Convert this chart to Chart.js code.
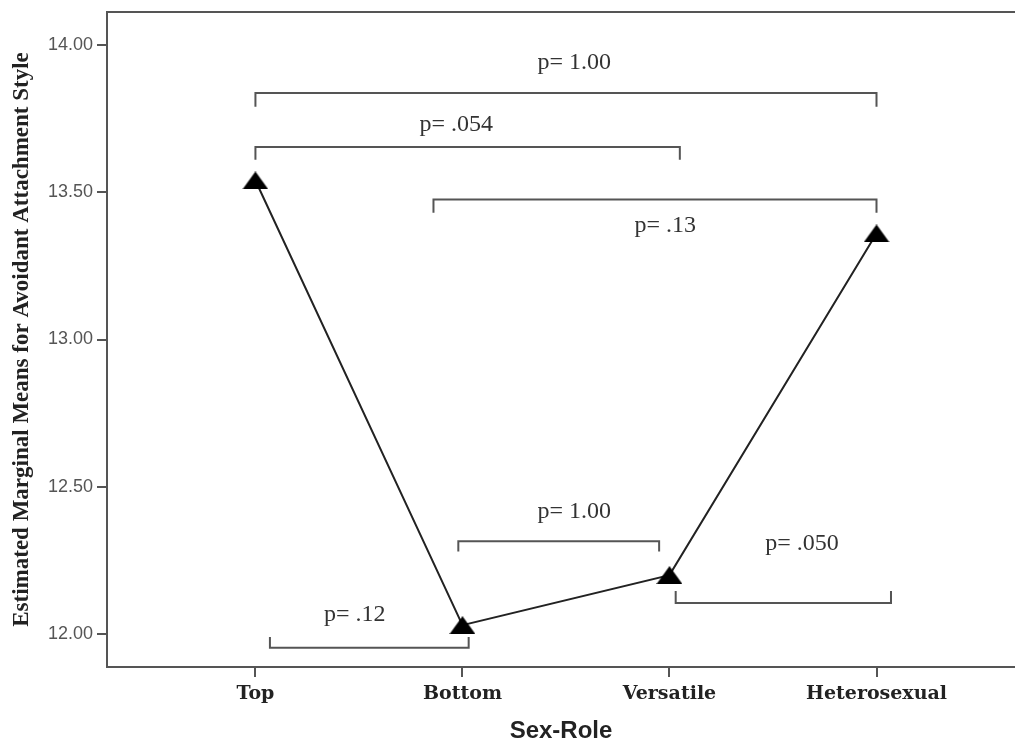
<!DOCTYPE html>
<html>
<head>
<meta charset="utf-8">
<script src="https://cdn.jsdelivr.net/npm/chart.js@4/dist/chart.umd.min.js"></script>
<style>
  html, body { margin: 0; padding: 0; background: #fff; }
  #wrap { width: 1015px; height: 746px; }
</style>
</head>
<body>
<div id="wrap"><canvas id="chart" width="1015" height="746"></canvas></div>
<script>
// values
var sexRoles = ['Top', 'Bottom', 'Versatile', 'Heterosexual'];
var avoidantMeans = [13.54, 12.03, 12.20, 13.36];
var yTicks = [12.00, 12.50, 13.00, 13.50, 14.00];

// pairwise comparison brackets (x in category units, y in mean units)
var bracketLabels = ['p= 1.00', 'p= .054', 'p= .13', 'p= 1.00', 'p= .050', 'p= .12'];
var bracketFrom = [0, 0, 0.86, 0.98, 2.03, 0.07];
var bracketTo = [3, 2.05, 3, 1.95, 3.07, 1.03];
var bracketLevel = [13.837, 13.654, 13.475, 12.315, 12.105, 11.953];
var bracketTip = [13.79, 13.61, 13.43, 12.28, 12.146, 11.99];
var labelX = [1.54, 0.97, 1.98, 1.54, 2.64, 0.48];
var labelY = [13.94, 13.73, 13.386, 12.414, 12.308, 12.064];

var AXIS = '#555';

function triangleMarker() {
  var c = document.createElement('canvas');
  c.width = 26; c.height = 18;
  var g = c.getContext('2d');
  g.fillStyle = '#000';
  g.beginPath(); g.moveTo(13, 0); g.lineTo(26, 18); g.lineTo(0, 18); g.closePath(); g.fill();
  return c;
}

var frame = {
  id: 'frame',
  afterDraw: function(chart) {
    var a = chart.chartArea, ctx = chart.ctx;
    ctx.save();
    ctx.strokeStyle = AXIS; ctx.lineWidth = 2;
    ctx.beginPath(); ctx.moveTo(a.left, a.top); ctx.lineTo(chart.width, a.top); ctx.stroke();
    ctx.restore();
  }
};

var brackets = {
  id: 'brackets',
  afterDatasetsDraw: function(chart) {
    var ctx = chart.ctx, x = chart.scales.x, y = chart.scales.y;
    ctx.save();
    ctx.strokeStyle = '#555'; ctx.lineWidth = 2;
    for (var i = 0; i < bracketLabels.length; i++) {
      var x0 = x.getPixelForValue(bracketFrom[i]), x1 = x.getPixelForValue(bracketTo[i]);
      var yl = y.getPixelForValue(bracketLevel[i]), yt = y.getPixelForValue(bracketTip[i]);
      ctx.beginPath();
      ctx.moveTo(x0, yt); ctx.lineTo(x0, yl); ctx.lineTo(x1, yl); ctx.lineTo(x1, yt);
      ctx.stroke();
    }
    ctx.fillStyle = '#333';
    ctx.font = '24px "Liberation Serif", serif';
    ctx.textAlign = 'center'; ctx.textBaseline = 'middle';
    for (var j = 0; j < bracketLabels.length; j++) {
      ctx.fillText(bracketLabels[j], x.getPixelForValue(labelX[j]), y.getPixelForValue(labelY[j]));
    }
    ctx.restore();
  }
};

new Chart(document.getElementById('chart'), {
  type: 'line',
  data: {
    datasets: [{
      data: sexRoles.map(function(r, i) { return { x: i, y: avoidantMeans[i] }; }),
      borderColor: '#222', borderWidth: 2,
      pointStyle: triangleMarker(), pointRadius: 10,
      fill: false, tension: 0, clip: false
    }]
  },
  options: {
    responsive: false, animation: false,
    layout: { autoPadding: false, padding: { top: 12, right: 0, bottom: 0, left: 0 } },
    plugins: { legend: { display: false }, tooltip: { enabled: false } },
    scales: {
      x: {
        type: 'linear', min: -0.717, max: 3.669,
        afterFit: function(s) { s.height = 79; s.paddingLeft = 0; s.paddingRight = 0; },
        afterBuildTicks: function(s) { s.ticks = sexRoles.map(function(r, i) { return { value: i }; }); },
        grid: { drawOnChartArea: false, drawTicks: true, tickLength: 10, color: AXIS, lineWidth: 2 },
        border: { display: true, color: AXIS, width: 2 },
        ticks: {
          padding: 6, color: '#222', autoSkip: false, maxRotation: 0,
          font: { family: '"DejaVu Serif", serif', size: 19, weight: 'bold' },
          callback: function(v) { return sexRoles[v]; }
        },
        title: { display: true, text: 'Sex-Role', color: '#222', padding: { top: 0, bottom: 0 },
          font: { family: '"Liberation Sans", Arial, sans-serif', size: 24, weight: 'bold' } }
      },
      y: {
        min: 11.888, max: 14.112,
        afterFit: function(s) { s.width = 107; s.paddingTop = 0; s.paddingBottom = 0; },
        afterBuildTicks: function(s) { s.ticks = yTicks.map(function(v) { return { value: v }; }); },
        grid: { drawOnChartArea: false, drawTicks: true, tickLength: 10, color: AXIS, lineWidth: 2 },
        border: { display: true, color: AXIS, width: 2 },
        ticks: {
          padding: 4, color: '#555',
          font: { family: '"Liberation Sans", Arial, sans-serif', size: 18 },
          callback: function(v) { return v.toFixed(2); }
        },
        title: { display: true, text: 'Estimated Marginal Means for Avoidant Attachment Style', color: '#222',
          padding: { top: 8, bottom: 0 },
          font: { family: '"Liberation Serif", serif', size: 23, weight: 'bold' } }
      }
    }
  },
  plugins: [frame, brackets]
});
</script>
</body>
</html>
